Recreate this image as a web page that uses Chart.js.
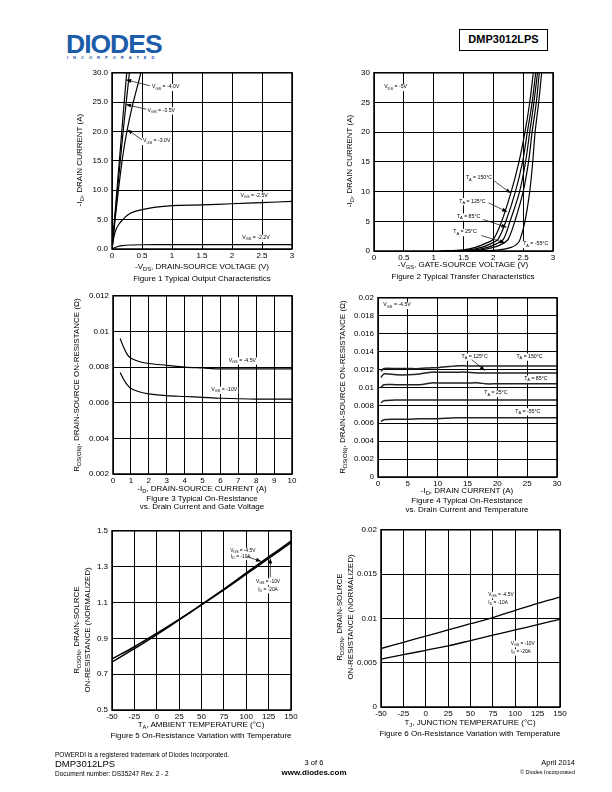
<!DOCTYPE html>
<html>
<head>
<meta charset="utf-8">
<script src="https://cdn.jsdelivr.net/npm/chart.js@4"></script>
<style>
  body { margin: 0; width: 612px; height: 792px; background: #fff; position: relative; overflow: hidden;
         font-family: "Liberation Sans", Arial, sans-serif; color: #000; }
  .t { position: absolute; white-space: nowrap; line-height: 1; font-size: 8px; }
  .c { transform: translate(-50%, -50%); }
  .r { transform: translate(-100%, -50%); }
  .l { transform: translateY(-50%); }
  .v { transform: translate(-50%, -50%) rotate(-90deg); }
  sub { font-size: 72%; vertical-align: -0.3em; line-height: 0; }
  canvas { position: absolute; }
  .logo { position: absolute; left: 66px; top: 31px; font: bold 26.5px "Liberation Sans", Arial, sans-serif;
          color: #1d5ca8; letter-spacing: -1px; line-height: 1; }
  .inc { position: absolute; left: 67px; top: 56px; font: bold 4.2px "Liberation Sans", Arial, sans-serif;
         color: #1d5ca8; letter-spacing: 4.9px; line-height: 1; }
  .part { position: absolute; left: 459px; top: 29px; width: 89px; height: 22px; box-sizing: border-box;
          border: 1.5px solid #000; font: bold 11px "Liberation Sans", Arial, sans-serif; text-align: center; line-height: 19px; }
</style>
</head>
<body>
<div class="logo">DIODES</div>
<div class="inc">INCORPORATED</div>
<div class="part">DMP3012LPS</div>

<canvas id="c1"></canvas>
<canvas id="c2"></canvas>
<canvas id="c3"></canvas>
<canvas id="c4"></canvas>
<canvas id="c5"></canvas>
<canvas id="c6"></canvas>

<!-- figure 1 -->
<div class="t v" style="left:80px;top:160px">-I<sub>D</sub>, DRAIN CURRENT (A)</div>
<div class="t c" style="left:202px;top:267px">-V<sub>DS</sub>, DRAIN-SOURCE VOLTAGE (V)</div>
<div class="t c" style="left:202px;top:278.5px">Figure 1 Typical Output Characteristics</div>
<!-- figure 2 -->
<div class="t v" style="left:350px;top:161px">-I<sub>D</sub>, DRAIN CURRENT (A)</div>
<div class="t c" style="left:463px;top:265px">-V<sub>GS</sub>, GATE-SOURCE VOLTAGE (V)</div>
<div class="t c" style="left:463px;top:276.5px">Figure 2 Typical Transfer Characteristics</div>
<!-- figure 3 -->
<div class="t v" style="left:77px;top:385px">R<sub>DS(ON)</sub>, DRAIN-SOURCE ON-RESISTANCE (Ω)</div>
<div class="t c" style="left:202px;top:488.5px">-I<sub>D</sub>, DRAIN-SOURCE CURRENT (A)</div>
<div class="t c" style="left:202px;top:498.5px">Figure 3 Typical On-Resistance</div>
<div class="t c" style="left:202px;top:507px">vs. Drain Current and Gate Voltage</div>
<!-- figure 4 -->
<div class="t v" style="left:343px;top:387px">R<sub>DS(ON)</sub>, DRAIN-SOURCE ON-RESISTANCE (Ω)</div>
<div class="t c" style="left:467px;top:490.5px">-I<sub>D</sub>, DRAIN CURRENT (A)</div>
<div class="t c" style="left:467px;top:501px">Figure 4 Typical On-Resistance</div>
<div class="t c" style="left:467px;top:509.5px">vs. Drain Current and Temperature</div>
<!-- figure 5 -->
<div class="t v" style="left:77px;top:630px">R<sub>DSON</sub>, DRAIN-SOLRCE</div>
<div class="t v" style="left:88px;top:630px">ON-RESISTANCE (NORMALIZED)</div>
<div class="t c" style="left:201px;top:725px">T<sub>A</sub>, AMBIENT TEMPERATURE (°C)</div>
<div class="t c" style="left:201px;top:736px">Figure 5 On-Resistance Variation with Temperature</div>
<!-- figure 6 -->
<div class="t v" style="left:340px;top:617px">R<sub>DSON</sub>, DRAIN-SOLRCE</div>
<div class="t v" style="left:351px;top:617px">ON-RESISTANCE (NORMALIZED)</div>
<div class="t c" style="left:470px;top:722.5px">T<sub>J</sub>, JUNCTION TEMPERATURE (°C)</div>
<div class="t c" style="left:470px;top:733.5px">Figure 6 On-Resistance Variation with Temperature</div>

<!-- footer -->
<div class="t l" style="left:55px;top:754.5px;font-size:6.5px">POWERDI is a registered trademark of Diodes Incorporated.</div>
<div class="t l" style="left:55px;top:763.5px;font-size:9.5px">DMP3012LPS</div>
<div class="t l" style="left:55px;top:773.5px;font-size:6.5px">Document number: DS35247 Rev. 2 - 2</div>
<div class="t c" style="left:314px;top:763px;font-size:7.5px">3 of 6</div>
<div class="t c" style="left:314px;top:772.5px;font-size:8px;font-weight:bold">www.diodes.com</div>
<div class="t r" style="left:575px;top:763px;font-size:7.5px">April 2014</div>
<div class="t r" style="left:575px;top:772.5px;font-size:5.5px">© Diodes Incorporated</div>

<script>
// Figure 1 - output characteristics
const fig1XTicks = ['0', '0.5', '1', '1.5', '2', '2.5', '3'];
const fig1YTicks = ['0.0', '5.0', '10.0', '15.0', '20.0', '25.0', '30.0'];
const fig1Vds40 = [0, 0.05, 0.1, 0.15, 0.2, 0.245];
const fig1Id40 = [0, 6, 12.2, 18.4, 24.6, 30];
const fig1Vds35 = [0, 0.05, 0.1, 0.15, 0.2, 0.25, 0.29];
const fig1Id35 = [0, 5.5, 11, 16.3, 21.4, 26.2, 30];
const fig1Vds30 = [0, 0.05, 0.1, 0.15, 0.2, 0.25, 0.3, 0.35, 0.4, 0.45, 0.48];
const fig1Id30 = [0, 4.8, 9.4, 13.6, 17.2, 20.1, 22.6, 24.8, 26.8, 28.7, 30];
const fig1Vds25 = [0, 0.03, 0.07, 0.12, 0.17, 0.25, 0.33, 0.5, 0.7, 1, 1.5, 2, 2.5, 3];
const fig1Id25 = [0, 2.0, 3.4, 4.3, 4.9, 5.7, 6.2, 6.7, 7.1, 7.4, 7.5, 7.7, 7.9, 8.1];
const fig1Vds22 = [0, 0.05, 0.1, 0.17, 0.3, 0.5, 1, 2, 3];
const fig1Id22 = [0, 0.25, 0.42, 0.57, 0.68, 0.72, 0.74, 0.75, 0.76];

// Figure 2 - transfer characteristics
const fig2XTicks = ['0', '0.5', '1', '1.5', '2', '2.5', '3'];
const fig2YTicks = ['0', '5', '10', '15', '20', '25', '30'];
const fig2Id = [0, 0.2, 0.6, 1.2, 2, 5, 10, 15, 20, 25, 30];
const fig2Vgs150 = [1.1, 1.5, 1.7, 1.85, 2.0, 2.14, 2.30, 2.43, 2.53, 2.61, 2.67];
const fig2Vgs125 = [1.2, 1.6, 1.8, 1.95, 2.08, 2.21, 2.37, 2.49, 2.57, 2.65, 2.71];
const fig2Vgs85 = [1.3, 1.7, 1.9, 2.05, 2.17, 2.28, 2.44, 2.54, 2.61, 2.68, 2.74];
const fig2Vgs25 = [1.4, 1.8, 2.0, 2.15, 2.25, 2.36, 2.50, 2.59, 2.65, 2.72, 2.77];
const fig2VgsM55 = [1.7, 2.1, 2.3, 2.4, 2.45, 2.53, 2.61, 2.66, 2.70, 2.76, 2.81];

// Figure 3 - on-resistance vs drain current and gate voltage
const fig3XTicks = ['0', '1', '2', '3', '4', '5', '6', '7', '8', '9', '10'];
const fig3YTicks = ['0.002', '0.004', '0.006', '0.008', '0.01', '0.012'];
const fig3Id = [0.4, 0.6, 0.8, 1, 1.5, 2, 3, 4, 5, 6, 8, 10];
const fig3R45 = [0.0096, 0.0091, 0.0087, 0.0085, 0.0083, 0.0082, 0.0081, 0.0080, 0.00795, 0.0079, 0.0079, 0.0079];
const fig3R10 = [0.0077, 0.0073, 0.0070, 0.0068, 0.0066, 0.0065, 0.0064, 0.00635, 0.0063, 0.00625, 0.0062, 0.0062];

// Figure 4 - on-resistance vs drain current and temperature
const fig4XTicks = ['0', '5', '10', '15', '20', '25', '30'];
const fig4YTicks = ['0', '0.002', '0.004', '0.006', '0.008', '0.01', '0.012', '0.014', '0.016', '0.018', '0.02'];
const fig4Id = [0.5, 1, 3, 5, 7, 9, 10, 13, 15, 17, 18, 20, 25, 30];
const fig4R150 = [0.0118, 0.0121, 0.0121, 0.0121, 0.0121, 0.0122, 0.0122, 0.0124, 0.0124, 0.0124, 0.0124, 0.0124, 0.0124, 0.0124];
const fig4R125 = [0.0111, 0.0115, 0.0114, 0.0114, 0.0115, 0.0117, 0.0117, 0.0117, 0.0117, 0.0116, 0.0116, 0.0116, 0.0116, 0.0116];
const fig4R85 = [0.0100, 0.0103, 0.0103, 0.0103, 0.0103, 0.0105, 0.0105, 0.0105, 0.0105, 0.0105, 0.0104, 0.0104, 0.0104, 0.0104];
const fig4R25 = [0.0083, 0.0085, 0.0086, 0.0086, 0.0086, 0.0086, 0.0086, 0.0086, 0.0086, 0.0086, 0.0086, 0.0086, 0.0086, 0.0086];
const fig4RM55 = [0.0062, 0.0064, 0.00645, 0.00645, 0.0065, 0.0065, 0.0065, 0.0066, 0.0066, 0.0066, 0.0066, 0.0066, 0.0066, 0.0066];

// Figure 5 - normalized on-resistance vs ambient temperature
const fig5XTicks = ['-50', '-25', '0', '25', '50', '75', '100', '125', '150'];
const fig5YTicks = ['0.5', '0.7', '0.9', '1.1', '1.3', '1.5'];
const fig5Temp = [-50, -25, 0, 25, 50, 75, 100, 125, 150];
const fig5R45 = [0.785, 0.853, 0.928, 1.006, 1.087, 1.170, 1.258, 1.346, 1.434];
const fig5R10 = [0.768, 0.842, 0.921, 1.003, 1.088, 1.175, 1.265, 1.354, 1.442];

// Figure 6 - on-resistance vs junction temperature
const fig6XTicks = ['-50', '-25', '0', '25', '50', '75', '100', '125', '150'];
const fig6YTicks = ['0', '0.005', '0.01', '0.015', '0.02'];
const fig6Temp = [-50, -25, 0, 25, 50, 75, 100, 125, 150];
const fig6R45 = [0.0066, 0.0073, 0.0080, 0.0087, 0.0094, 0.0101, 0.0109, 0.0117, 0.0124];
const fig6R10 = [0.0054, 0.0059, 0.0064, 0.0069, 0.0075, 0.0081, 0.0087, 0.0093, 0.0099];

const FONT = '"Liberation Sans", Arial, sans-serif';

// text with {subscript} parts
function drawRich(ctx, text, x, y, size) {
  const parts = text.split(/(\{[^}]*\})/).filter(Boolean)
    .map(p => p[0] === '{' ? [p.slice(1, -1), true] : [p, false]);
  let w = 0;
  parts.forEach(([t, sub]) => { ctx.font = (sub ? size * 0.75 : size) + 'px ' + FONT; w += ctx.measureText(t).width; });
  ctx.fillStyle = '#fff';
  ctx.fillRect(x - 1, y - size * 0.6, w + 2, size * 1.4);
  ctx.fillStyle = '#000';
  ctx.textBaseline = 'middle';
  ctx.textAlign = 'left';
  let cx = x;
  parts.forEach(([t, sub]) => {
    ctx.font = (sub ? size * 0.75 : size) + 'px ' + FONT;
    ctx.fillText(t, cx, sub ? y + size * 0.3 : y);
    cx += ctx.measureText(t).width;
  });
}

const frame = {
  id: 'frame',
  afterDraw(chart) {
    const { ctx, chartArea: a } = chart;
    ctx.save();
    ctx.strokeStyle = '#000';
    ctx.lineWidth = 1.5;
    ctx.strokeRect(a.left, a.top, a.right - a.left, a.bottom - a.top);
    ctx.restore();
  }
};

function notesPlugin(notes) {
  return {
    id: 'notes',
    afterDatasetsDraw(chart) {
      const { ctx, scales: { x, y } } = chart;
      ctx.save();
      (notes.labels || []).forEach(l => drawRich(ctx, l.text, x.getPixelForValue(l.x), y.getPixelForValue(l.y), notes.size));
      ctx.strokeStyle = '#000';
      ctx.fillStyle = '#000';
      ctx.lineWidth = 0.7;
      (notes.arrows || []).forEach(a => {
        const x1 = x.getPixelForValue(a.x1), y1 = y.getPixelForValue(a.y1);
        const x2 = x.getPixelForValue(a.x2), y2 = y.getPixelForValue(a.y2);
        const ang = Math.atan2(y2 - y1, x2 - x1);
        ctx.beginPath(); ctx.moveTo(x1, y1); ctx.lineTo(x2, y2); ctx.stroke();
        ctx.beginPath();
        ctx.moveTo(x2, y2);
        ctx.lineTo(x2 - 5 * Math.cos(ang) + 2 * Math.sin(ang), y2 - 5 * Math.sin(ang) - 2 * Math.cos(ang));
        ctx.lineTo(x2 - 5 * Math.cos(ang) - 2 * Math.sin(ang), y2 - 5 * Math.sin(ang) + 2 * Math.cos(ang));
        ctx.closePath(); ctx.fill();
      });
      ctx.restore();
    }
  };
}

function axis(labels, side, fitSize) {
  const min = +labels[0], max = +labels[labels.length - 1], step = labels[1] - labels[0];
  return {
    type: 'linear', min, max,
    afterFit: s => { if (side === 'x') s.height = fitSize; else s.width = fitSize; },
    grid: { color: '#000', lineWidth: 1, drawTicks: false },
    border: { display: false },
    ticks: {
      stepSize: step, autoSkip: false, maxRotation: 0, padding: side === 'x' ? 2 : 4, color: '#000',
      font: { size: 8, family: FONT },
      callback: v => labels[Math.round((v - min) / step)] ?? ''
    }
  };
}

function makeChart(id, box, xLabels, yLabels, series, notes) {
  const canvas = document.getElementById(id);
  const padL = 44, padT = 8, padR = 14, padB = 16;
  canvas.width = box.w + padL + padR;
  canvas.height = box.h + padT + padB;
  canvas.style.left = (box.x - padL) + 'px';
  canvas.style.top = (box.y - padT) + 'px';
  new Chart(canvas, {
    type: 'scatter',
    data: {
      datasets: series.map(s => ({
        data: s.x.map((v, i) => ({ x: v, y: s.y[i] })),
        showLine: true, borderColor: s.color || '#000', borderWidth: s.width || 1.2,
        pointRadius: 0, tension: 0.3, fill: false
      }))
    },
    options: {
      responsive: false, animation: false, devicePixelRatio: 1,
      layout: { padding: { left: 0, top: padT, right: padR, bottom: 0 } },
      plugins: { legend: { display: false }, tooltip: { enabled: false } },
      scales: { x: axis(xLabels, 'x', padB), y: axis(yLabels, 'y', padL) }
    },
    plugins: [frame, notesPlugin(notes)]
  });
}

makeChart('c1', { x: 112, y: 72, w: 180, h: 177 }, fig1XTicks, fig1YTicks, [
  { x: fig1Vds40, y: fig1Id40 },
  { x: fig1Vds35, y: fig1Id35 },
  { x: fig1Vds30, y: fig1Id30 },
  { x: fig1Vds25, y: fig1Id25 },
  { x: fig1Vds22, y: fig1Id22 }
], {
  size: 5.2,
  labels: [
    { text: 'V{GS} = -4.0V', x: 0.667, y: 27.6 },
    { text: 'V{GS} = -3.5V', x: 0.593, y: 23.6 },
    { text: 'V{GS} = -3.0V', x: 0.517, y: 18.4 },
    { text: 'V{GS} = -2.5V', x: 2.14, y: 9.1 },
    { text: 'V{GS} = -2.2V', x: 2.17, y: 1.9 }
  ],
  arrows: [
    { x1: 0.63, y1: 27.8, x2: 0.236, y2: 28.8 },
    { x1: 0.57, y1: 23.8, x2: 0.233, y2: 24.6 },
    { x1: 0.50, y1: 18.6, x2: 0.26, y2: 20.3 }
  ]
});

makeChart('c2', { x: 374, y: 72, w: 179, h: 179 }, fig2XTicks, fig2YTicks, [
  { x: fig2Vgs150, y: fig2Id },
  { x: fig2Vgs125, y: fig2Id },
  { x: fig2Vgs85, y: fig2Id },
  { x: fig2Vgs25, y: fig2Id },
  { x: fig2VgsM55, y: fig2Id }
], {
  size: 5.2,
  labels: [
    { text: 'V{DS} = -5V', x: 0.17, y: 27.6 },
    { text: 'T{A} = 150°C', x: 1.54, y: 12.3 },
    { text: 'T{A} = 125°C', x: 1.43, y: 8.4 },
    { text: 'T{A} = 85°C', x: 1.39, y: 5.8 },
    { text: 'T{A} = 25°C', x: 1.33, y: 3.2 },
    { text: 'T{A} = -55°C', x: 2.5, y: 1.17 }
  ],
  arrows: [
    { x1: 2.0, y1: 11.9, x2: 2.29, y2: 9.75 },
    { x1: 1.92, y1: 8.1, x2: 2.23, y2: 6.6 },
    { x1: 1.83, y1: 5.3, x2: 2.22, y2: 4.0 },
    { x1: 1.80, y1: 2.6, x2: 2.19, y2: 1.4 }
  ]
});

makeChart('c3', { x: 113, y: 295, w: 179, h: 179 }, fig3XTicks, fig3YTicks, [
  { x: fig3Id, y: fig3R45 },
  { x: fig3Id, y: fig3R10 }
], {
  size: 5.2,
  labels: [
    { text: 'V{GS} = -4.5V', x: 6.46, y: 0.00837 },
    { text: 'V{GS} = -10V', x: 5.49, y: 0.00673 }
  ]
});

makeChart('c4', { x: 378, y: 297, w: 179, h: 180 }, fig4XTicks, fig4YTicks, [
  { x: fig4Id, y: fig4R150, width: 1.5, color: '#222' },
  { x: fig4Id, y: fig4R125, width: 1.5, color: '#222' },
  { x: fig4Id, y: fig4R85, width: 1.5, color: '#222' },
  { x: fig4Id, y: fig4R25, width: 1.5, color: '#222' },
  { x: fig4Id, y: fig4RM55, width: 1.5, color: '#222' }
], {
  size: 5.2,
  labels: [
    { text: 'V{GS} = -4.5V', x: 0.9, y: 0.0192 },
    { text: 'T{A} = 125°C', x: 14.0, y: 0.01344 },
    { text: 'T{A} = 150°C', x: 23.2, y: 0.01344 },
    { text: 'T{A} = 85°C', x: 24.5, y: 0.01097 },
    { text: 'T{A} = 25°C', x: 17.8, y: 0.00937 },
    { text: 'T{A} = -55°C', x: 23.0, y: 0.00733 }
  ],
  arrows: [
    { x1: 15.7, y1: 0.0131, x2: 17.9, y2: 0.0119 }
  ]
});

makeChart('c5', { x: 112, y: 530, w: 179, h: 180 }, fig5XTicks, fig5YTicks, [
  { x: fig5Temp, y: fig5R45, width: 1.5 },
  { x: fig5Temp, y: fig5R10, width: 1.5 }
], {
  size: 4.8,
  labels: [
    { text: 'V{GS} = -4.5V', x: 82, y: 1.389 },
    { text: 'I{D} = -10A', x: 83, y: 1.358 },
    { text: 'V{GS} = -10V', x: 110.9, y: 1.218 },
    { text: 'I{D} = -20A', x: 113.4, y: 1.172 }
  ],
  arrows: [
    { x1: 101, y1: 1.355, x2: 116.5, y2: 1.33 },
    { x1: 126.9, y1: 1.241, x2: 126.9, y2: 1.345 }
  ]
});

makeChart('c6', { x: 381, y: 529, w: 179, h: 178 }, fig6XTicks, fig6YTicks, [
  { x: fig6Temp, y: fig6R45, width: 1.3 },
  { x: fig6Temp, y: fig6R10, width: 1.3 }
], {
  size: 4.8,
  labels: [
    { text: 'V{GS} = -4.5V', x: 69.9, y: 0.0127 },
    { text: 'I{D} = -10A', x: 69.9, y: 0.01176 },
    { text: 'V{GS} = -10V', x: 94.9, y: 0.00716 },
    { text: 'I{D} = -20A', x: 95.5, y: 0.00622 }
  ]
});
</script>
</body>
</html>
